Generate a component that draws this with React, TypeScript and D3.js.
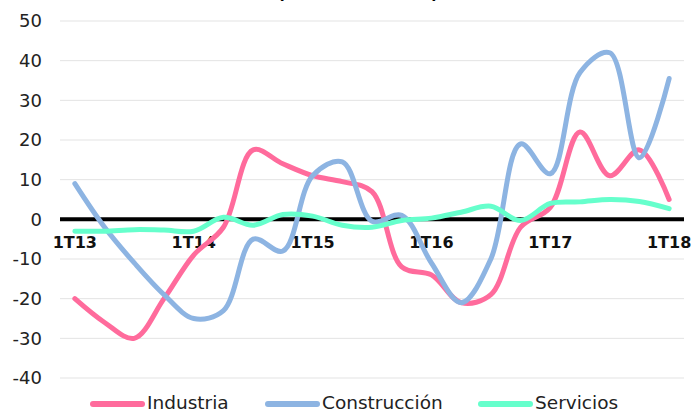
import * as d3 from 'd3'

const quarters = [
  '1T13', '2T13', '3T13', '4T13',
  '1T14', '2T14', '3T14', '4T14',
  '1T15', '2T15', '3T15', '4T15',
  '1T16', '2T16', '3T16', '4T16',
  '1T17', '2T17', '3T17', '4T17',
  '1T18',
]
const tickLabels = ['1T13', '1T14', '1T15', '1T16', '1T17', '1T18']
const yTicks = [50, 40, 30, 20, 10, 0, -10, -20, -30, -40]

const industria = [-20, -26, -30, -20, -9, -2, 17.5, 14, 11, 9.5, 7, -12, -14, -21, -19, -2, 3, 22, 11, 17.5, 5]
const construccion = [9, -2, -11, -19, -25, -23, -5, -8, 11, 14.5, -0.5, 1, -11, -21, -10, 19, 11.5, 37, 42, 15.5, 35.5]
const servicios = [-3, -3, -2.6, -2.7, -3, 0.5, -1.5, 1.2, 0.8, -1.5, -2, -0.3, 0.3, 1.8, 3.3, -0.3, 4, 4.4, 5, 4.5, 2.7]

const series = [
  { name: 'Industria', values: industria, color: '#FF6B9C' },
  { name: 'Construcción', values: construccion, color: '#8DB4E2' },
  { name: 'Servicios', values: servicios, color: '#66FFCC' },
]

const W = 694
const H = 412
const PLOT = { left: 60, right: 684, top: 21, bottom: 378 }
const FONT = '"DejaVu Sans", Verdana, sans-serif'

export default function App() {
  const x = d3.scalePoint<string>().domain(quarters).range([PLOT.left, PLOT.right]).padding(0.5)
  const y = d3.scaleLinear().domain([-40, 50]).range([PLOT.bottom, PLOT.top])

  const line = d3.line<number>()
    .x((_, i) => x(quarters[i]) as number)
    .y(d => y(d))
    .curve(d3.curveCatmullRom.alpha(0.5))

  const legendItems = [
    { lineX: 93, textX: 147 },
    { lineX: 268, textX: 322 },
    { lineX: 481, textX: 535 },
  ]

  return (
    <>
      <style>{`body{margin:0}`}</style>
      <svg width={W} height={H} style={{ display: 'block', background: '#fff' }} fontFamily={FONT}>
        {/* title, only the bottom of it shows above the frame */}
        <text x={358} y={-1} textAnchor="middle" fontSize={17} fontWeight="bold" fill="#000">
          (tasa interanual)
        </text>

        {/* grid */}
        {yTicks.filter(t => t !== 0).map(t => (
          <line key={t} x1={PLOT.left} x2={PLOT.right} y1={y(t)} y2={y(t)} stroke="#E3E3E3" strokeWidth={1} />
        ))}

        {/* y labels */}
        {yTicks.map(t => (
          <text key={t} x={42} y={y(t)} dy="0.36em" textAnchor="end" fontSize={18} fill="#222">
            {t}
          </text>
        ))}

        {/* zero axis */}
        <line x1={PLOT.left} x2={PLOT.right} y1={y(0)} y2={y(0)} stroke="#000" strokeWidth={4} />

        {/* x labels */}
        {tickLabels.map(q => (
          <text key={q} x={x(q)} y={248} textAnchor="middle" fontSize={16} fontWeight="bold" fill="#111">
            {q}
          </text>
        ))}

        {/* series */}
        {series.map(s => (
          <path key={s.name} d={line(s.values) ?? ''} fill="none" stroke={s.color}
            strokeWidth={5} strokeLinecap="round" strokeLinejoin="round" />
        ))}

        {/* legend */}
        {series.map((s, i) => (
          <g key={s.name}>
            <line x1={legendItems[i].lineX} x2={legendItems[i].lineX + 49} y1={404} y2={404}
              stroke={s.color} strokeWidth={6} strokeLinecap="round" />
            <text x={legendItems[i].textX} y={409} fontSize={18.5} fill="#222">{s.name}</text>
          </g>
        ))}
      </svg>
    </>
  )
}
